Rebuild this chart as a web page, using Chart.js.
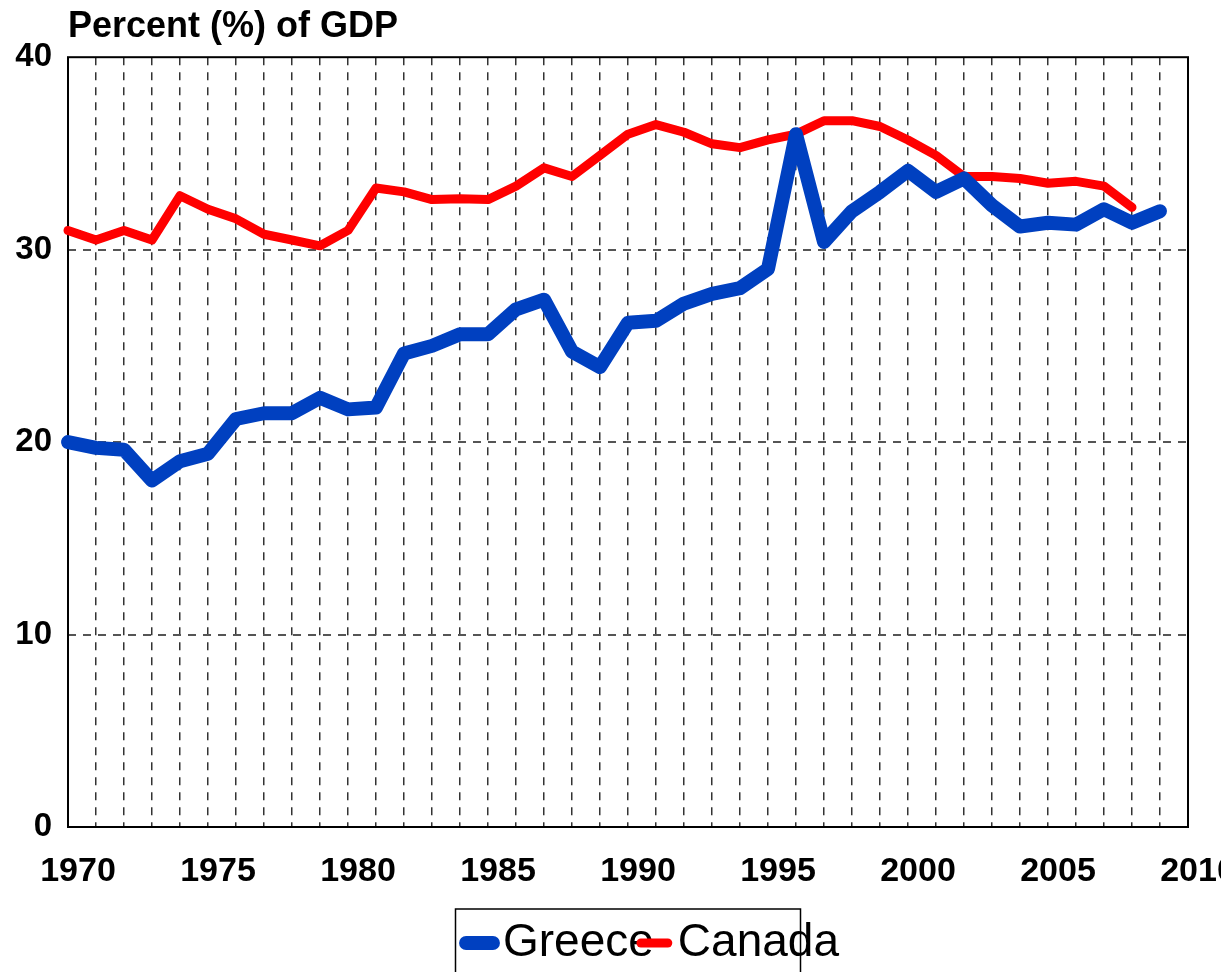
<!DOCTYPE html>
<html>
<head>
<meta charset="utf-8">
<script src="https://cdn.jsdelivr.net/npm/chart.js@4.4.1/dist/chart.umd.min.js"></script>
<style>
  html, body { margin: 0; padding: 0; background: #fff; overflow: hidden; }
  #wrap { position: relative; width: 1221px; height: 976px; }
</style>
</head>
<body>
<div id="wrap"><canvas id="c"></canvas></div>
<script>
// ---- data ----
const years = [1970,1971,1972,1973,1974,1975,1976,1977,1978,1979,
               1980,1981,1982,1983,1984,1985,1986,1987,1988,1989,
               1990,1991,1992,1993,1994,1995,1996,1997,1998,1999,
               2000,2001,2002,2003,2004,2005,2006,2007,2008,2009,2010];
const greece = [20.0,19.7,19.6,18.0,19.0,19.4,21.2,21.5,21.5,22.3,
                21.7,21.8,24.6,25.0,25.6,25.6,26.9,27.4,24.7,23.9,
                26.2,26.3,27.2,27.7,28.0,29.0,36.0,30.4,32.0,33.0,
                34.1,33.0,33.7,32.3,31.2,31.4,31.3,32.1,31.4,32.0,null];
const canada = [31.0,30.5,31.0,30.5,32.8,32.1,31.6,30.8,30.5,30.2,
                31.0,33.2,33.0,32.6,32.65,32.6,33.3,34.25,33.8,34.9,
                36.0,36.5,36.1,35.5,35.3,35.7,36.0,36.7,36.7,36.4,
                35.7,34.9,33.8,33.8,33.7,33.45,33.55,33.3,32.2,null,null];
const xTickLabels = ['1970','1975','1980','1985','1990','1995','2000','2005','2010'];
const yMin = 0, yMax = 40, yStep = 10;
const seriesNames = ['Greece', 'Canada'];
const titleText = 'Percent (%) of GDP';

Chart.defaults.font.family = '"Liberation Sans", Arial, Helvetica, sans-serif';
Chart.defaults.color = '#000';

const framePlugin = {
  id: 'framePlugin',
  afterLayout(chart) {
    const lg = chart.legend;
    if (lg) { lg.left += 31; lg.right += 31; }
  },
  beforeDatasetsDraw(chart) {
    const { ctx, chartArea: a } = chart;
    ctx.save();
    ctx.strokeStyle = '#000';
    ctx.lineWidth = 2;
    ctx.setLineDash([]);
    ctx.strokeRect(a.left, a.top, a.right - a.left, a.bottom - a.top);
    ctx.restore();
  },
  afterDraw(chart) {
    const { ctx, chartArea: a, legend: lg } = chart;
    const cx = (a.left + a.right) / 2;
    ctx.save();
    ctx.strokeStyle = '#000';
    ctx.lineWidth = 1.5;
    ctx.setLineDash([]);
    ctx.strokeRect(cx - 172.5, lg.top - 11, 345, 120);
    ctx.restore();
  }
};

new Chart(document.getElementById('c'), {
  type: 'line',
  data: {
    labels: years,
    datasets: [
      { label: seriesNames[0], data: greece, borderColor: '#0040C0', backgroundColor: '#0040C0',
        borderWidth: 14, pointRadius: 0, pointHoverRadius: 0, borderCapStyle: 'round',
        borderJoinStyle: 'round', tension: 0, fill: false, clip: false },
      { label: seriesNames[1], data: canada, borderColor: '#FF0000', backgroundColor: '#FF0000',
        borderWidth: 9, pointRadius: 0, pointHoverRadius: 0, borderCapStyle: 'round',
        borderJoinStyle: 'round', tension: 0, fill: false, clip: false }
    ]
  },
  options: {
    responsive: true,
    maintainAspectRatio: false,
    animation: false,
    layout: { padding: { left: 0, right: 33, top: 0, bottom: 0 } },
    plugins: {
      tooltip: { enabled: false },
      title: {
        display: true, text: titleText, align: 'start', fullSize: false,
        color: '#000', font: { size: 36, weight: 'bold' },
        padding: { top: 5, bottom: 9 }
      },
      legend: {
        position: 'bottom', fullSize: false, align: 'center',
        labels: {
          usePointStyle: true, pointStyle: 'line', boxWidth: 1, boxHeight: 19,
          padding: 0, color: '#000', font: { size: 46, weight: 'normal' },
          generateLabels: chart => Chart.defaults.plugins.legend.labels.generateLabels(chart)
            .map(item => Object.assign(item, { lineCap: 'round', pointStyle: 'line' }))
        }
      }
    },
    scales: {
      x: {
        type: 'category',
        offset: false,
        grid: {
          color: c => (c.index === 0 || c.index === years.length - 1) ? 'rgba(0,0,0,0)' : '#333',
          lineWidth: 1.5, drawTicks: false
        },
        border: { display: false, dash: [8, 7] },
        ticks: {
          autoSkip: false, maxRotation: 0, minRotation: 0, padding: 24, labelOffset: 10,
          color: '#000', font: { size: 34, weight: 'bold' },
          callback: function (v, i) {
            const l = String(years[i]);
            return xTickLabels.includes(l) ? l : '';
          }
        },
        afterFit(s) { s.height = 93; s.paddingLeft = 0; s.paddingRight = 0; }
      },
      y: {
        min: yMin, max: yMax,
        ticks: { stepSize: yStep, padding: 16, color: '#000', font: { size: 33, weight: 'bold' } },
        grid: {
          color: c => (c.tick.value === yMin || c.tick.value === yMax) ? 'rgba(0,0,0,0)' : '#555',
          lineWidth: 2, drawTicks: false
        },
        border: { display: false, dash: [8, 7] },
        afterFit(s) { s.width = 68; s.paddingTop = 0; s.paddingBottom = 0; }
      }
    }
  },
  plugins: [framePlugin]
});
</script>
</body>
</html>
